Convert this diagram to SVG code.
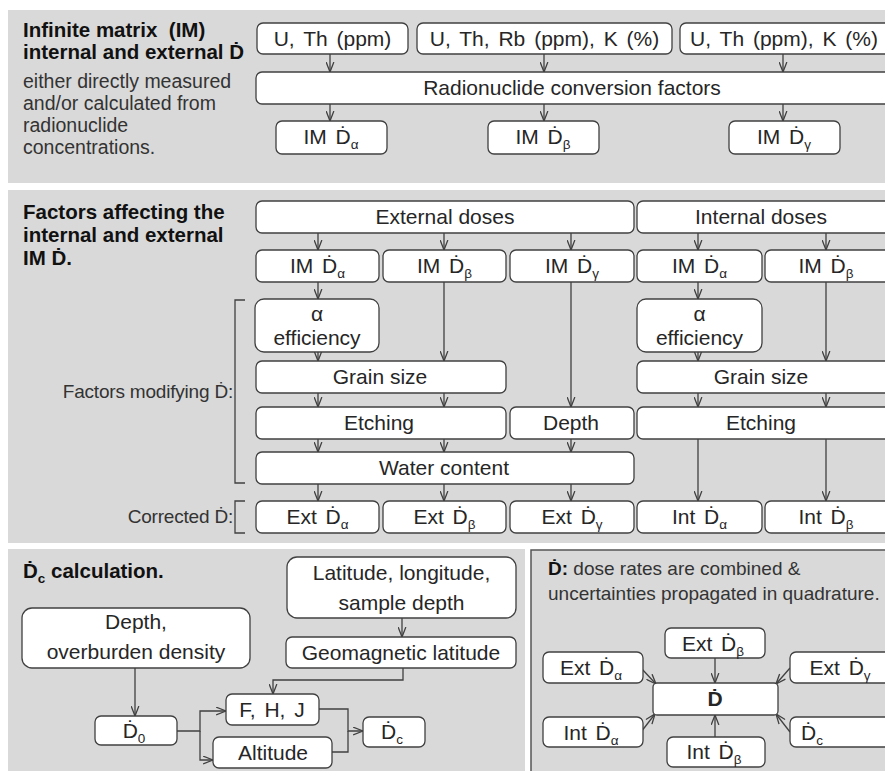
<svg xmlns="http://www.w3.org/2000/svg" width="885" height="771" viewBox="0 0 885 771">
<defs>
<style>
.panel{fill:#d9d9d9}
.box{fill:#ffffff;stroke:#404040;stroke-width:1.3}
.t{font-family:"Liberation Sans",Arial,sans-serif;font-size:21px;fill:#262626;text-anchor:middle}
.w{word-spacing:3px}
.h{font-family:"Liberation Sans",Arial,sans-serif;font-size:20.5px;font-weight:bold;fill:#111}
.p{font-family:"Liberation Sans",Arial,sans-serif;font-size:19.5px;fill:#333}
.q{font-family:"Liberation Sans",Arial,sans-serif;font-size:19px;fill:#333}
.l{font-family:"Liberation Sans",Arial,sans-serif;font-size:19px;fill:#333;text-anchor:end;letter-spacing:-0.2px}
.s{font-size:13.5px}
.c{stroke:#404040;stroke-width:1.3;fill:none}
.a{marker-end:url(#ah)}
</style>
<marker id="ah" viewBox="0 0 10 8" refX="9.5" refY="4" markerWidth="11" markerHeight="9" orient="auto" markerUnits="userSpaceOnUse">
<path d="M0.5,0.5 L9.5,4 L0.5,7.5" fill="none" stroke="#404040" stroke-width="1.2"/>
</marker>
</defs>

<g id="panels">
<rect class="panel" x="8" y="10" width="877" height="173"/>
<rect class="panel" x="8" y="190" width="877" height="353"/>
<rect class="panel" x="8" y="549" width="517" height="222"/>
<rect class="panel" x="531" y="550" width="360" height="230" stroke="#555" stroke-width="1.5"/>
</g>

<g id="labels">
<text class="h" x="23" y="37">Infinite matrix &#160;(IM)</text>
<text class="h" x="23" y="59">internal and external Ḋ</text>
<text class="p" x="23" y="88">either directly measured</text>
<text class="p" x="23" y="110">and/or calculated from</text>
<text class="p" x="23" y="132">radionuclide</text>
<text class="p" x="23" y="154">concentrations.</text>
<text class="h" x="23" y="219">Factors affecting the</text>
<text class="h" x="23" y="242">internal and external</text>
<text class="h" x="23" y="265">IM Ḋ.</text>
<text class="l" x="233" y="398">Factors modifying Ḋ:</text>
<text class="l" x="233" y="523">Corrected Ḋ:</text>
<text class="h" x="23" y="578">Ḋ<tspan class="s" dy="5">c</tspan><tspan dy="-5"> calculation.</tspan></text>
<text class="q" x="548" y="575"><tspan font-weight="bold" fill="#111">Ḋ:</tspan> dose rates are combined &amp;</text>
<text class="q" x="548" y="600">uncertainties propagated in quadrature.</text>
</g>

<g id="brackets" class="c">
<polyline points="245,300 235,300 235,483 245,483"/>
<polyline points="245,501 235,501 235,533 245,533"/>
</g>

<g id="connectors">
<g class="c a">
<line x1="330" y1="54" x2="330" y2="72"/>
<line x1="544" y1="54" x2="544" y2="72"/>
<line x1="783" y1="54" x2="783" y2="72"/>
<line x1="330" y1="104" x2="330" y2="121"/>
<line x1="544" y1="104" x2="544" y2="121"/>
<line x1="783" y1="104" x2="783" y2="121"/>

<line x1="318" y1="233" x2="318" y2="250"/>
<line x1="444" y1="233" x2="444" y2="250"/>
<line x1="571" y1="233" x2="571" y2="250"/>
<line x1="698" y1="233" x2="698" y2="250"/>
<line x1="826" y1="233" x2="826" y2="250"/>
<line x1="318" y1="282" x2="318" y2="299"/>
<line x1="698" y1="282" x2="698" y2="299"/>
<line x1="444" y1="282" x2="444" y2="361"/>
<line x1="826" y1="282" x2="826" y2="361"/>
<line x1="571" y1="282" x2="571" y2="407"/>
<line x1="318" y1="352" x2="318" y2="361"/>
<line x1="698" y1="352" x2="698" y2="361"/>
<line x1="318" y1="393" x2="318" y2="407"/>
<line x1="444" y1="393" x2="444" y2="407"/>
<line x1="698" y1="393" x2="698" y2="407"/>
<line x1="826" y1="393" x2="826" y2="407"/>
<line x1="318" y1="439" x2="318" y2="452"/>
<line x1="444" y1="439" x2="444" y2="452"/>
<line x1="571" y1="439" x2="571" y2="452"/>
<line x1="318" y1="484" x2="318" y2="501"/>
<line x1="444" y1="484" x2="444" y2="501"/>
<line x1="571" y1="484" x2="571" y2="501"/>
<line x1="698" y1="439" x2="698" y2="501"/>
<line x1="826" y1="439" x2="826" y2="501"/>

<line x1="402" y1="618" x2="402" y2="637"/>
<polyline points="403,668 403,680 273,680 273,694"/>
<line x1="135" y1="668" x2="135" y2="716"/>
<polyline points="177,731 200,731 200,711 226,711"/>
<polyline points="200,731 200,760 213,760"/>
<polyline points="319,709 348,709 348,731 363,731"/>

<line x1="715" y1="658" x2="715" y2="683"/>
<line x1="715" y1="737" x2="715" y2="715"/>
<line x1="641" y1="668" x2="656" y2="684"/>
<line x1="790" y1="668" x2="776" y2="684"/>
<line x1="641" y1="732" x2="655" y2="714"/>
<line x1="790" y1="732" x2="776" y2="714"/>
</g>
<polyline class="c" points="332,752 348,752 348,731"/>
</g>

<g id="n-uth"><rect class="box" x="257" y="23" width="151" height="31" rx="6"/><text class="t w" x="332.5" y="46">U, Th (ppm)</text></g>
<g id="n-uthrbk"><rect class="box" x="417" y="23" width="255" height="31" rx="6"/><text class="t w" x="544.5" y="46">U, Th, Rb (ppm), K (%)</text></g>
<g id="n-uthk"><rect class="box" x="680" y="23" width="215" height="31" rx="6"/><text class="t w" x="784" y="46">U, Th (ppm), K (%)</text></g>
<g id="n-rcf"><rect class="box" x="256" y="72" width="640" height="32" rx="6"/><text class="t" x="572" y="95">Radionuclide conversion factors</text></g>
<g id="n-ima1"><rect class="box" x="276" y="121" width="111" height="33" rx="6"/><text class="t w" x="331" y="144">IM Ḋ<tspan class="s" dy="5">α</tspan></text></g>
<g id="n-imb1"><rect class="box" x="488" y="121" width="111" height="33" rx="6"/><text class="t w" x="543" y="144">IM Ḋ<tspan class="s" dy="5">β</tspan></text></g>
<g id="n-img1"><rect class="box" x="729" y="121" width="111" height="33" rx="6"/><text class="t w" x="784" y="144">IM Ḋ<tspan class="s" dy="5">γ</tspan></text></g>

<g id="n-ext"><rect class="box" x="256" y="201" width="378" height="32" rx="6"/><text class="t" x="445" y="224">External doses</text></g>
<g id="n-int"><rect class="box" x="637" y="201" width="260" height="32" rx="6"/><text class="t" x="761" y="224">Internal doses</text></g>
<g id="n-ima2"><rect class="box" x="256" y="250" width="123" height="32" rx="6"/><text class="t w" x="317.5" y="273">IM Ḋ<tspan class="s" dy="5">α</tspan></text></g>
<g id="n-imb2"><rect class="box" x="383" y="250" width="123" height="32" rx="6"/><text class="t w" x="444.5" y="273">IM Ḋ<tspan class="s" dy="5">β</tspan></text></g>
<g id="n-img2"><rect class="box" x="510" y="250" width="124" height="32" rx="6"/><text class="t w" x="572" y="273">IM Ḋ<tspan class="s" dy="5">γ</tspan></text></g>
<g id="n-ima3"><rect class="box" x="637" y="250" width="125" height="32" rx="6"/><text class="t w" x="699.5" y="273">IM Ḋ<tspan class="s" dy="5">α</tspan></text></g>
<g id="n-imb3"><rect class="box" x="765" y="250" width="130" height="32" rx="6"/><text class="t w" x="826" y="273">IM Ḋ<tspan class="s" dy="5">β</tspan></text></g>
<g id="n-aeff1"><rect class="box" x="255" y="299" width="124" height="53" rx="9"/><text class="t" x="317" y="321">α</text><text class="t" x="317" y="345">efficiency</text></g>
<g id="n-aeff2"><rect class="box" x="637" y="299" width="125" height="53" rx="9"/><text class="t" x="699.5" y="321">α</text><text class="t" x="699.5" y="345">efficiency</text></g>
<g id="n-grain1"><rect class="box" x="256" y="361" width="250" height="32" rx="6"/><text class="t" x="380" y="384">Grain size</text></g>
<g id="n-grain2"><rect class="box" x="637" y="361" width="260" height="32" rx="6"/><text class="t" x="761" y="384">Grain size</text></g>
<g id="n-etch1"><rect class="box" x="256" y="407" width="250" height="32" rx="6"/><text class="t" x="379" y="430">Etching</text></g>
<g id="n-depth"><rect class="box" x="510" y="407" width="124" height="32" rx="6"/><text class="t" x="571" y="430">Depth</text></g>
<g id="n-etch2"><rect class="box" x="637" y="407" width="260" height="32" rx="6"/><text class="t" x="761" y="430">Etching</text></g>
<g id="n-water"><rect class="box" x="256" y="452" width="378" height="32" rx="6"/><text class="t" x="444" y="475">Water content</text></g>
<g id="n-exta"><rect class="box" x="256" y="501" width="123" height="32" rx="6"/><text class="t w" x="317.5" y="524">Ext Ḋ<tspan class="s" dy="5">α</tspan></text></g>
<g id="n-extb"><rect class="box" x="383" y="501" width="123" height="32" rx="6"/><text class="t w" x="444.5" y="524">Ext Ḋ<tspan class="s" dy="5">β</tspan></text></g>
<g id="n-extg"><rect class="box" x="510" y="501" width="124" height="32" rx="6"/><text class="t w" x="572" y="524">Ext Ḋ<tspan class="s" dy="5">γ</tspan></text></g>
<g id="n-inta"><rect class="box" x="637" y="501" width="125" height="32" rx="6"/><text class="t w" x="699.5" y="524">Int Ḋ<tspan class="s" dy="5">α</tspan></text></g>
<g id="n-intb"><rect class="box" x="765" y="501" width="130" height="32" rx="6"/><text class="t w" x="826" y="524">Int Ḋ<tspan class="s" dy="5">β</tspan></text></g>

<g id="n-lat"><rect class="box" x="287" y="557" width="229" height="61" rx="10"/><text class="t" x="401.5" y="580">Latitude, longitude,</text><text class="t" x="401.5" y="610">sample depth</text></g>
<g id="n-geo"><rect class="box" x="286" y="637" width="230" height="31" rx="6"/><text class="t" x="401" y="660">Geomagnetic latitude</text></g>
<g id="n-depthod"><rect class="box" x="22" y="608" width="228" height="60" rx="10"/><text class="t" x="136" y="629">Depth,</text><text class="t" x="136" y="659">overburden density</text></g>
<g id="n-d0"><rect class="box" x="95" y="716" width="82" height="29" rx="6"/><text class="t" x="134" y="738">Ḋ<tspan class="s" dy="5">0</tspan></text></g>
<g id="n-fhj"><rect class="box" x="226" y="694" width="93" height="31" rx="6"/><text class="t w" x="272" y="717">F, H, J</text></g>
<g id="n-alt"><rect class="box" x="213" y="737" width="119" height="31" rx="6"/><text class="t" x="273" y="760">Altitude</text></g>
<g id="n-dc"><rect class="box" x="363" y="717" width="62" height="30" rx="6"/><text class="t" x="392" y="739">Ḋ<tspan class="s" dy="5">c</tspan></text></g>

<g id="n-D"><rect class="box" x="653" y="683" width="125" height="32" rx="4"/><text class="t" x="715" y="706" font-weight="bold" fill="#111">Ḋ</text></g>
<g id="n-fextb"><rect class="box" x="665" y="628" width="100" height="30" rx="6"/><text class="t w" x="713" y="651">Ext Ḋ<tspan class="s" dy="5">β</tspan></text></g>
<g id="n-fexta"><rect class="box" x="543" y="652" width="100" height="31" rx="6"/><text class="t w" x="591" y="675">Ext Ḋ<tspan class="s" dy="5">α</tspan></text></g>
<g id="n-fextg"><rect class="box" x="790" y="652" width="105" height="31" rx="6"/><text class="t w" x="840" y="675">Ext Ḋ<tspan class="s" dy="5">γ</tspan></text></g>
<g id="n-finta"><rect class="box" x="543" y="717" width="100" height="30" rx="6"/><text class="t w" x="591" y="740">Int Ḋ<tspan class="s" dy="5">α</tspan></text></g>
<g id="n-fintb"><rect class="box" x="667" y="737" width="98" height="30" rx="6"/><text class="t w" x="714" y="759">Int Ḋ<tspan class="s" dy="5">β</tspan></text></g>
<g id="n-fdc"><rect class="box" x="790" y="717" width="105" height="30" rx="6"/><text class="t" x="812" y="740">Ḋ<tspan class="s" dy="5">c</tspan></text></g>
</svg>
